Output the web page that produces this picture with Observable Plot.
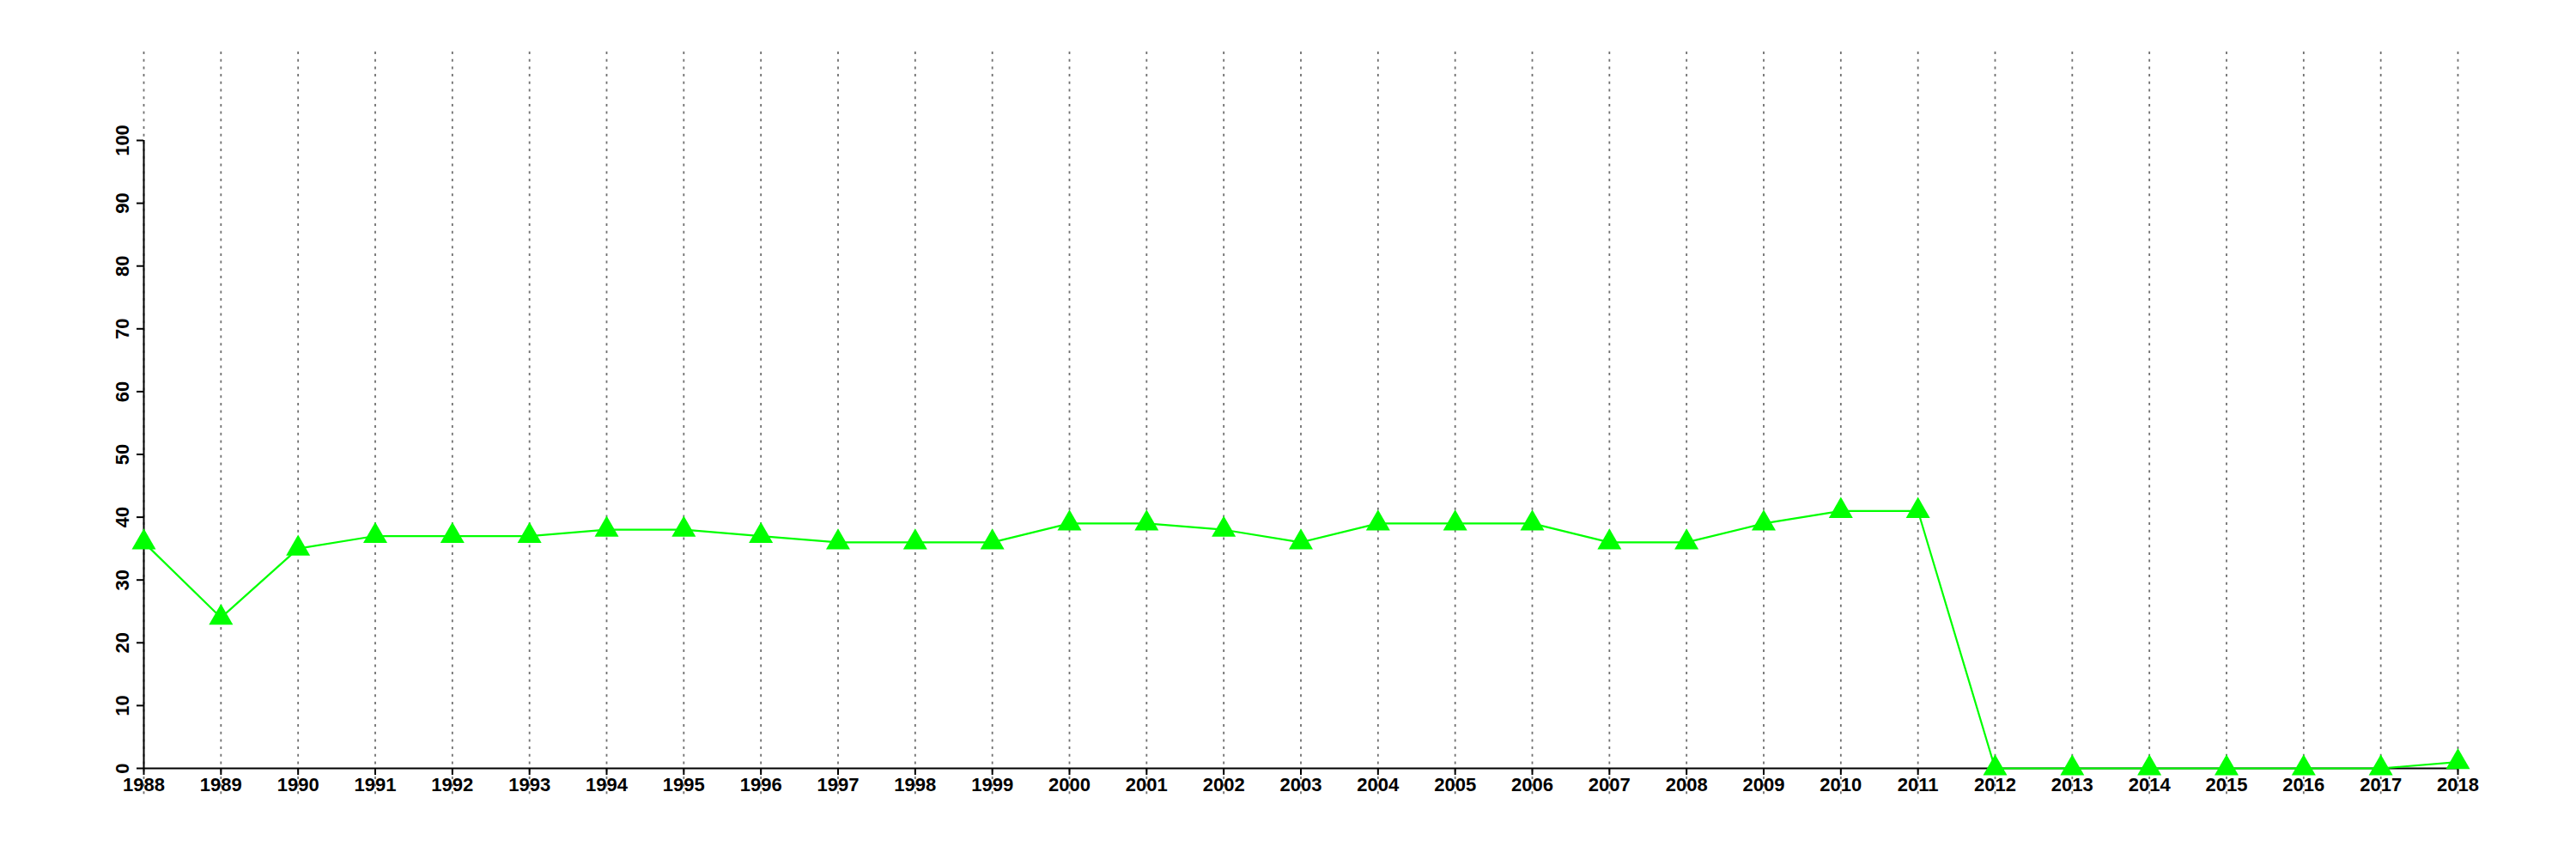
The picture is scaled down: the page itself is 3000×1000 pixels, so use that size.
<!DOCTYPE html>
<html>
<head>
<meta charset="utf-8">
<script src="https://cdn.jsdelivr.net/npm/d3@7"></script>
<script src="https://cdn.jsdelivr.net/npm/@observablehq/plot@0.6"></script>
<style>
  html, body { margin: 0; padding: 0; background: #fff; }
</style>
</head>
<body>
<div id="chart"></div>
<script>
const years = [1988,1989,1990,1991,1992,1993,1994,1995,1996,1997,1998,1999,2000,2001,2002,2003,2004,2005,2006,2007,2008,2009,2010,2011,2012,2013,2014,2015,2016,2017,2018];
const values = [36,24,35,37,37,37,38,38,37,36,36,36,39,39,38,36,39,39,39,36,36,39,41,41,0,0,0,0,0,0,1];
const yTicks = [0,10,20,30,40,50,60,70,80,90,100];

const data = years.map((yr, i) => ({year: yr, value: values[i]}));

const chart = Plot.plot({
  width: 3000,
  height: 1000,
  marginLeft: 167,
  marginRight: 138,
  marginTop: 60,
  marginBottom: 73,
  style: {fontFamily: "'Liberation Sans', Arial, sans-serif", fontSize: "22px", background: "#fff", color: "#000"},
  x: {type: "linear", domain: [1988, 2018]},
  y: {domain: [0, 100], range: [894, 163]},
  marks: [
    Plot.gridX(years, {stroke: "#707070", strokeOpacity: 1, strokeWidth: 1.8, strokeDasharray: "3,5.7"}),
    Plot.ruleY([0], {stroke: "#000", strokeWidth: 2}),
    Plot.ruleX([1988], {y1: 0, y2: 100, stroke: "#000", strokeWidth: 2}),
    Plot.axisX(years, {anchor: "bottom", tickFormat: d => String(d), tickSize: 8, tickPadding: 3, dy: -33, fontWeight: "bold", label: null, stroke: "#000", strokeWidth: 2}),
    Plot.axisY(yTicks, {anchor: "left", tickSize: 8, tickPadding: 10, tickRotate: -90, fontWeight: "bold", label: null, strokeWidth: 2}),
    Plot.line(data, {x: "year", y: "value", stroke: "#00ff00", strokeWidth: 2.2}),
    Plot.dot(data, {x: "year", y: "value", symbol: "triangle", r: 10.4, fill: "#00ff00", stroke: "none"})
  ]
});
document.getElementById("chart").appendChild(chart);
</script>
</body>
</html>
